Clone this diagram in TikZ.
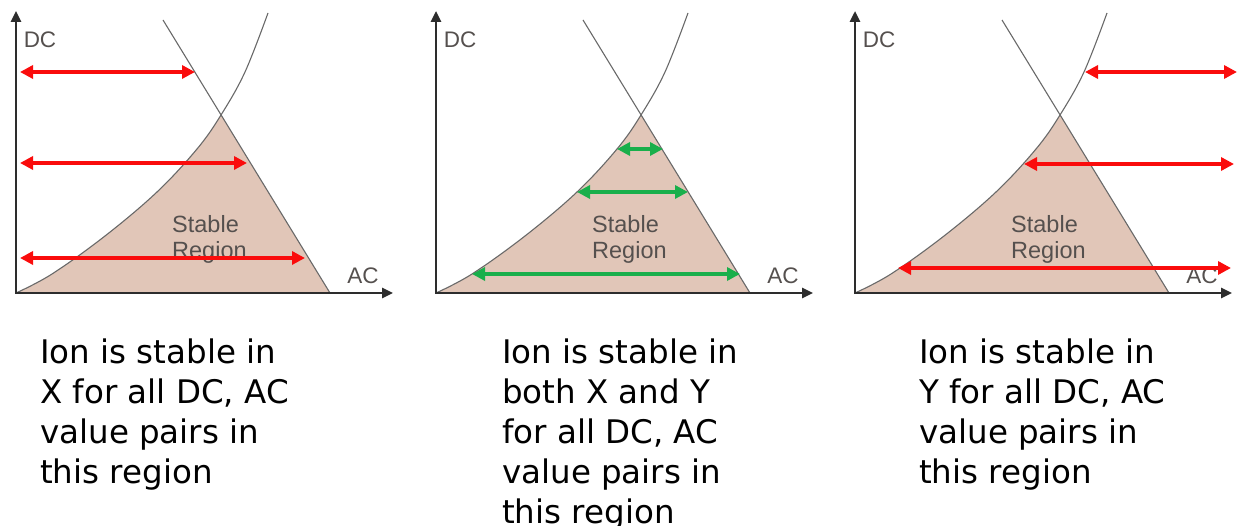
\documentclass[tikz,border=0pt]{standalone}
\usepackage{fontspec}
\setmainfont{DejaVu Sans}
\newfontfamily\axisfont{Liberation Sans}
\usetikzlibrary{arrows.meta}
\definecolor{regionfill}{RGB}{225,198,184}
\definecolor{curvegray}{RGB}{105,105,105}
\definecolor{axisgray}{RGB}{45,45,45}
\definecolor{labelgray}{RGB}{85,80,78}
\definecolor{arrred}{RGB}{250,12,12}
\definecolor{arrgreen}{RGB}{25,175,75}
\tikzset{
  axisline/.style={draw=axisgray, line width=2.6pt, line cap=rect, -{Triangle[length=11pt,width=10pt]}},
  curveline/.style={draw=curvegray, line width=1.1pt},
  dblarrow/.style={line width=3.6pt, {Triangle[length=13pt,width=13pt]}-{Triangle[length=13pt,width=13pt]}},
  redarrow/.style={dblarrow, draw=arrred, fill=arrred},
  greenarrow/.style={dblarrow, draw=arrgreen, fill=arrgreen},
  axislabel/.style={font=\axisfont\fontsize{22.5}{22.5}\selectfont, text=labelgray, inner sep=0pt},
  stablelabel/.style={font=\axisfont\fontsize{23.5}{26}\selectfont, text=labelgray, align=left, inner sep=0pt, anchor=north west},
  caption/.style={font=\fontsize{32.5}{40}\selectfont, align=left, anchor=north west, inner sep=0pt}
}
\begin{document}
\begin{tikzpicture}[x=1pt,y=-1pt]
\useasboundingbox (0,0) rectangle (1243,526);
\foreach \sx/\k in {0/a,420/b,839/c}{
  \begin{scope}[xshift=\sx pt]
    \begin{scope}
      \clip (0,293) -- (0,0) -- (150.6,0) -- (330,293) -- cycle;
      \fill[regionfill] plot[smooth,tension=0.6] coordinates {(16,293) (52,274) (105,236) (157,192) (197,149) (221,115) (245,72) (268,13)} -- (420,13) -- (420,293) -- cycle;
    \end{scope}
    \draw[curveline] plot[smooth,tension=0.6] coordinates {(16,293) (52,274) (105,236) (157,192) (197,149) (221,115) (245,72) (268,13)};
    \draw[curveline] (163,20) -- (330,293);
    \coordinate (O\k) at (16,293);
    \coordinate (Y\k) at (16,11);
    \coordinate (X\k) at (393,293);
    \draw[axisline] (O\k) -- (Y\k);
    \draw[axisline] (O\k) -- (X\k);
    \node[axislabel] (dc\k) at (40,40) {DC};
    \node[axislabel] (ac\k) at (363,276) {AC};
    \node[stablelabel] (st\k) at (172,215) {Stable\\Region};
  \end{scope}
}
% panel 1 arrows
\coordinate (a1l) at (20,72);  \coordinate (a1r) at (195,72);
\coordinate (a2l) at (20,163); \coordinate (a2r) at (247,163);
\coordinate (a3l) at (20,258); \coordinate (a3r) at (305,258);
\draw[redarrow] (a1l) -- (a1r);
\draw[redarrow] (a2l) -- (a2r);
\draw[redarrow] (a3l) -- (a3r);
% panel 2 arrows
\coordinate (b1l) at (617,149); \coordinate (b1r) at (663,149);
\coordinate (b2l) at (577,192); \coordinate (b2r) at (688,192);
\coordinate (b3l) at (472,274); \coordinate (b3r) at (740,274);
\draw[greenarrow] (b1l) -- (b1r);
\draw[greenarrow] (b2l) -- (b2r);
\draw[greenarrow] (b3l) -- (b3r);
% panel 3 arrows
\coordinate (c1l) at (1085,72);  \coordinate (c1r) at (1237,72);
\coordinate (c2l) at (1024,164); \coordinate (c2r) at (1234,164);
\coordinate (c3l) at (898,268);  \coordinate (c3r) at (1231,268);
\draw[redarrow] (c1l) -- (c1r);
\draw[redarrow] (c2l) -- (c2r);
\draw[redarrow] (c3l) -- (c3r);
% captions
\node[caption] (capa) at (40,338.3) {Ion is stable in\\X for all DC, AC\\value pairs in\\this region};
\node[caption] (capb) at (502,338.3) {Ion is stable in\\both X and Y\\for all DC, AC\\value pairs in\\this region};
\node[caption] (capc) at (919,338.3) {Ion is stable in\\Y for all DC, AC\\value pairs in\\this region};
\end{tikzpicture}
\end{document}
